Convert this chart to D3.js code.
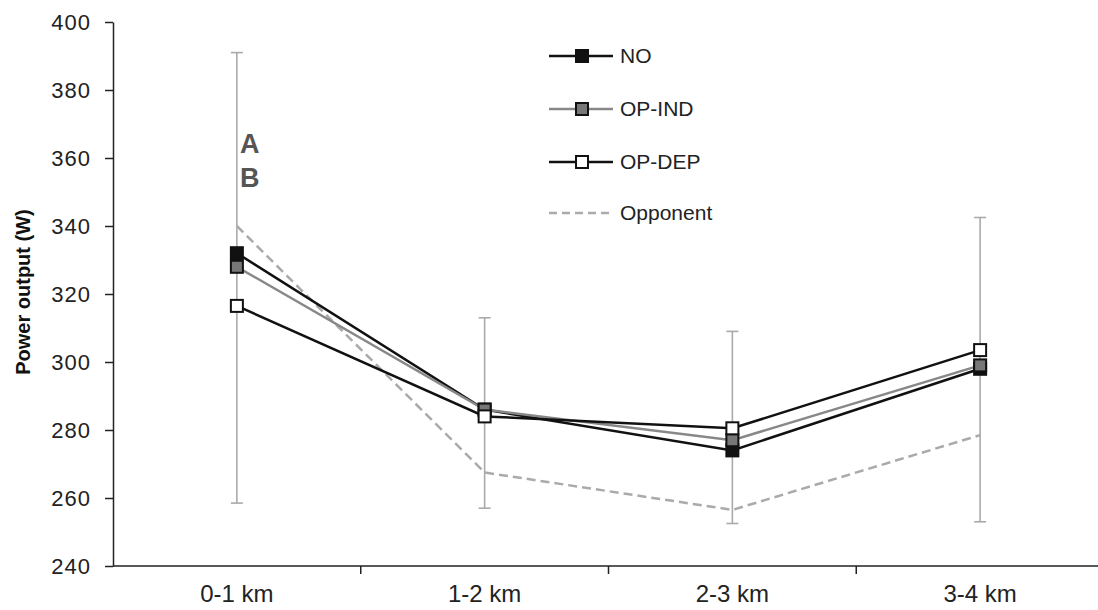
<!DOCTYPE html>
<html>
  <head>
    <meta charset="utf-8">
    <script src="https://cdn.jsdelivr.net/npm/d3@7/dist/d3.min.js"></script>
    <style>
      body { margin: 0; background: white; }
      text { font-family: "Liberation Sans", Arial, sans-serif; fill: #222; }
      .axis path, .axis line { stroke: #222; stroke-width: 1.5px; }
      .axis text { fill: #222; }
      .yaxis text { font-size: 22px; letter-spacing: 1px; }
      .xaxis text { font-size: 24px; }
    </style>
  </head>
  <body>
    <svg id="chart" width="1098" height="610"></svg>
    <script>
      var segments = ["0-1 km", "1-2 km", "2-3 km", "3-4 km"];
      var yTicks = [240, 260, 280, 300, 320, 340, 360, 380, 400];
      var noValues = [332, 286, 274, 298];
      var opIndValues = [328, 286, 277, 299];
      var opDepValues = [316.5, 284, 280.5, 303.5];
      var opponentValues = [340, 267.5, 256.5, 278.5];
      var errUpper = [391, 313, 309, 342.5];
      var errLower = [258.5, 257, 252.5, 253];

      var svg = d3.select("#chart");
      var x = d3.scaleBand().domain(segments).range([113, 1104]);
      var y = d3.scaleLinear().domain([240, 400]).range([566, 22]);
      var cx = d => x(d) + x.bandwidth() / 2;

      svg.append("g").attr("class", "axis yaxis")
        .attr("transform", "translate(113,0)")
        .call(d3.axisLeft(y).tickValues(yTicks).tickSize(8).tickSizeOuter(0).tickPadding(14))
        .call(g => g.selectAll("text").attr("dy", "0.35em"));

      svg.append("g").attr("class", "axis xaxis")
        .attr("transform", "translate(0,566)")
        .call(d3.axisBottom(x).tickSize(0).tickPadding(19))
        .call(g => g.select(".domain").remove());
      // tick marks sit on the band edges, not the centres
      svg.append("line").attr("x1", 113).attr("x2", 1098).attr("y1", 566).attr("y2", 566)
        .style("stroke", "#222").style("stroke-width", "1.5px");
      svg.selectAll(".edge").data(segments.slice(1)).enter().append("line")
        .attr("x1", d => x(d)).attr("x2", d => x(d))
        .attr("y1", 566).attr("y2", 574)
        .style("stroke", "#222").style("stroke-width", "1.5px");

      svg.append("text")
        .attr("transform", "translate(30,292) rotate(-90)")
        .attr("text-anchor", "middle")
        .style("font-size", "20px").style("font-weight", "bold").style("fill", "#111")
        .text("Power output (W)");

      // error bars
      var eb = svg.append("g").style("stroke", "#aaa").style("stroke-width", "1.6px");
      segments.forEach(function(s, i) {
        eb.append("line").attr("x1", cx(s)).attr("x2", cx(s)).attr("y1", y(errUpper[i])).attr("y2", y(errLower[i]));
        eb.append("line").attr("x1", cx(s) - 6).attr("x2", cx(s) + 6).attr("y1", y(errUpper[i])).attr("y2", y(errUpper[i]));
        eb.append("line").attr("x1", cx(s) - 6).attr("x2", cx(s) + 6).attr("y1", y(errLower[i])).attr("y2", y(errLower[i]));
      });

      var line = d3.line().x((d, i) => cx(segments[i])).y(d => y(d));

      svg.append("path").datum(opponentValues).attr("d", line)
        .style("fill", "none").style("stroke", "#aaa").style("stroke-width", "2.5px")
        .style("stroke-dasharray", "9 5");

      var series = [
        { name: "NO", values: noValues, stroke: "#111", fill: "#111" },
        { name: "OP-IND", values: opIndValues, stroke: "#888", fill: "#777" },
        { name: "OP-DEP", values: opDepValues, stroke: "#111", fill: "#fff" }
      ];

      series.forEach(function(s) {
        svg.append("path").datum(s.values).attr("d", line)
          .style("fill", "none").style("stroke", s.stroke).style("stroke-width", "2.5px");
      });
      series.forEach(function(s) {
        svg.selectAll(null).data(s.values).enter().append("rect")
          .attr("x", (d, i) => cx(segments[i]) - 6).attr("y", d => y(d) - 6)
          .attr("width", 12).attr("height", 12)
          .style("fill", s.fill).style("stroke", "#111").style("stroke-width", "2px");
      });

      // significance letters
      svg.append("text").attr("x", 240).attr("y", 153).text("A")
        .style("font-size", "27px").style("font-weight", "bold").style("fill", "#555");
      svg.append("text").attr("x", 240).attr("y", 187).text("B")
        .style("font-size", "27px").style("font-weight", "bold").style("fill", "#555");

      // legend
      var legend = [
        { name: "NO", stroke: "#111", fill: "#111", dash: null, y: 56 },
        { name: "OP-IND", stroke: "#888", fill: "#777", dash: null, y: 109 },
        { name: "OP-DEP", stroke: "#111", fill: "#fff", dash: null, y: 162 },
        { name: "Opponent", stroke: "#aaa", fill: null, dash: "8 5", y: 213 }
      ];
      var lg = svg.selectAll(".lg").data(legend).enter().append("g");
      lg.append("line").attr("x1", 549).attr("x2", 613).attr("y1", d => d.y).attr("y2", d => d.y)
        .style("stroke", d => d.stroke).style("stroke-width", "2.5px")
        .style("stroke-dasharray", d => d.dash);
      lg.filter(d => d.fill).append("rect")
        .attr("x", 576).attr("y", d => d.y - 6).attr("width", 12).attr("height", 12)
        .style("fill", d => d.fill).style("stroke", "#111").style("stroke-width", "2px");
      lg.append("text").attr("x", 620).attr("y", d => d.y).attr("dy", "0.35em")
        .style("font-size", "21px").text(d => d.name);
    </script>
  </body>
</html>
